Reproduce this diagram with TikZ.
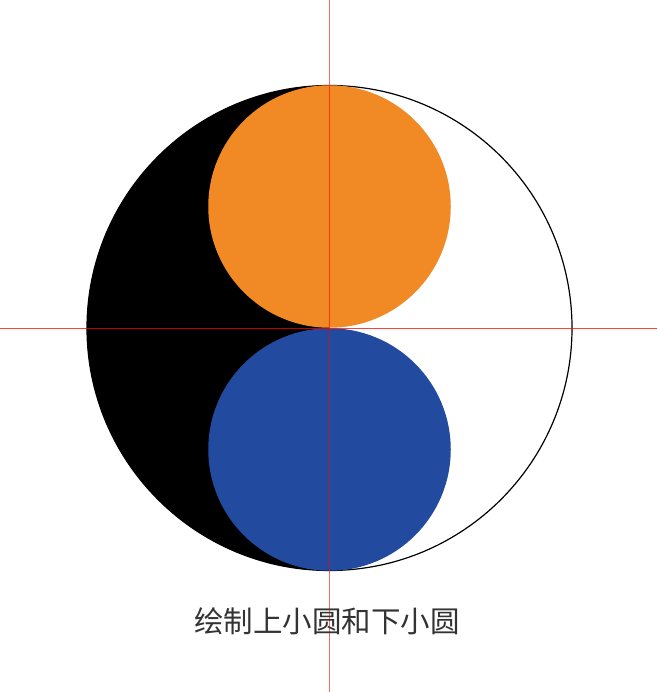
\documentclass[tikz,border=0pt]{standalone}
\usepackage{fontspec}
\newfontfamily\cjk{Noto Sans CJK SC}
\definecolor{yinorange}{RGB}{241,138,36}
\definecolor{yinblue}{RGB}{34,74,158}
\definecolor{captiongray}{RGB}{51,51,51}
\begin{document}
\begin{tikzpicture}[x=1pt,y=1pt]
    \useasboundingbox (0,0) rectangle (657,-692);
    \coordinate (o) at (329.5,-328);
    \coordinate (t) at (329.5,-206.5);
    \coordinate (b) at (329.5,-449.5);

    % Big circle: left half black, right half white
    \fill[white] (o) circle (242.5);
    \fill[black] (329.5,-85.5) arc (90:270:242.5) -- cycle;
    \draw[black, line width=1.2] (o) circle (242.5);

    % Upper and lower small circles
    \fill[yinorange] (t) circle (121.25);
    \fill[yinblue] (b) circle (121.25);

    % Guide lines
    \coordinate (l) at (0,-328);   \coordinate (r) at (657,-328);
    \coordinate (u) at (329.5,0);  \coordinate (d) at (329.5,-692);
    \draw[red, opacity=0.75, line width=1] (l) -- (r);
    \draw[red, opacity=0.6, line width=1] (u) -- (d);

    \node[text=captiongray, font=\cjk\fontsize{29.5}{32}\selectfont] (caption) at (327,-621) {绘制上小圆和下小圆};
\end{tikzpicture}
\end{document}
